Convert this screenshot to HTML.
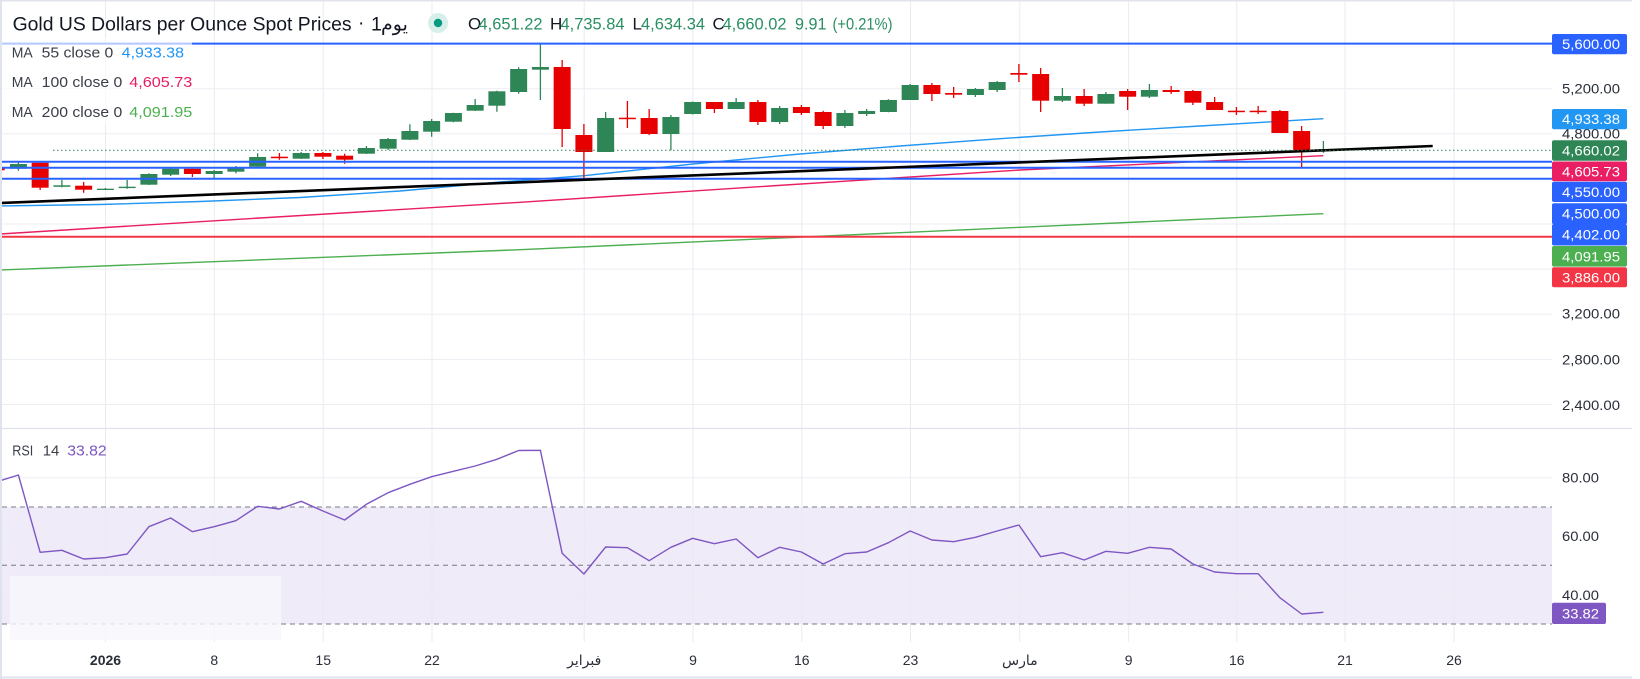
<!DOCTYPE html>
<html><head><meta charset="utf-8"><style>
html,body{margin:0;padding:0;background:#fff;width:1640px;height:679px;overflow:hidden}
svg{display:block}
text{font-family:"Liberation Sans","DejaVu Sans",sans-serif}
</style></head><body>
<svg width="1640" height="679" viewBox="0 0 1640 679" xmlns="http://www.w3.org/2000/svg">
<defs>
<clipPath id="pc"><rect x="2" y="1" width="1550" height="427"/></clipPath>
<clipPath id="rc"><rect x="2" y="429" width="1550" height="213"/></clipPath>
</defs>
<rect x="0" y="0" width="1640" height="679" fill="#fff"/>
<!-- RSI band -->
<rect x="2" y="507" width="1550" height="117" fill="#EFEBF8"/>
<!-- grid -->
<path d="M105.5 1V642M214.3 1V642M323.2 1V642M432 1V642M584.2 1V642M693 1V642M801.8 1V642M910.5 1V642M1019.8 1V642M1128.6 1V642M1236.8 1V642M1345 1V642M1454 1V642" stroke="#E9EBF0" stroke-width="1" fill="none"/>
<path d="M2 88.7H1552M2 133.8H1552M2 178.9H1552M2 224H1552M2 269.1H1552M2 314.3H1552M2 359.4H1552M2 404.5H1552M2 477.7H1552M2 536H1552M2 594.3H1552" stroke="#ECEEF2" stroke-width="1" fill="none"/>
<!-- borders -->
<rect x="0" y="0" width="1632" height="1.5" fill="#E0E3EB"/>
<rect x="0" y="0" width="2" height="679" fill="#DFE3EC"/>
<rect x="0" y="427.8" width="1632" height="1.3" fill="#E0E3EB"/>
<rect x="0" y="676.5" width="1632" height="2" fill="#E0E3EB"/>

<g clip-path="url(#pc)">
<!-- MAs -->
<polyline fill="none" stroke="#4CAF50" stroke-width="1.4" points="0,270 520,249.7 1020,227.3 1323.4,213.7"/>
<polyline fill="none" stroke="#E91E63" stroke-width="1.4" points="0,234 260,218 520,202.3 770,186 1020,170 1323.4,155.7"/>
<polyline fill="none" stroke="#2196F3" stroke-width="1.4" points="0,206 100,204.5 200,201.5 300,197.5 400,191 500,182 584,175.7 693,164 800,154 900,146 1000,138.7 1100,132 1200,126 1323.4,118.7"/>
<!-- candles wicks -->
<path fill="none" stroke="#2E8555" stroke-width="1.3" d="M18.4 162V170.7M61.9 180V187.3M105.4 188V190M127.15 180V188.7M148.9 173.3V185M170.65 167.7V176M214.15 170V178M235.9 166V173.3M257.65 153.3V167M301.15 152V159M366.4 146V154M388.15 138V150M409.9 124.3V140M431.65 119V136.7M453.4 112.7V122.3M475.15 99V111M496.9 90.7V111.7M518.65 67.3V93.7M540.4 44V100M605.65 112V152M670.9 115V150.3M692.65 101.5V114.5M736.15 98V109M779.65 106V124M844.9 110V128M866.65 109V116M888.4 99.3V112.3M910.15 84V100M975.4 88V97M997.15 81V92M1062.4 88V102M1105.9 92V103.7M1149.4 84V98M1323.4 141V152.7"/>
<path fill="none" stroke="#E60000" stroke-width="1.3" d="M40.15 162V190M83.65 182V192.7M192.4 167.3V177M279.4 153V159.7M322.9 152V159M344.65 153.7V163.7M562.15 60V147M583.9 124V178.7M627.4 101V128M649.15 109V135M714.4 102V113M757.9 100V125M801.4 105V115M823.15 110.7V129M931.9 83V101M953.65 87V98M1018.9 64V82M1040.65 68V112M1084.15 89V106M1127.65 89V110M1171.15 86V94M1192.9 90V105M1214.65 97V110M1236.4 107V115M1258.15 106V114M1279.9 110V133M1301.65 126V167.7"/>
<!-- green bodies -->
<g fill="#2E8555">
<rect x="9.9" y="164" width="17" height="4.7"/>
<rect x="53.4" y="185.3" width="17" height="1.5"/>
<rect x="96.9" y="188.7" width="17" height="1.3"/>
<rect x="118.65" y="186.7" width="17" height="1.4"/>
<rect x="140.4" y="174" width="17" height="10.7"/>
<rect x="162.15" y="168.7" width="17" height="6"/>
<rect x="205.65" y="171" width="17" height="3"/>
<rect x="227.4" y="167" width="17" height="4.7"/>
<rect x="249.15" y="157" width="17" height="9.7"/>
<rect x="292.65" y="153" width="17" height="5.7"/>
<rect x="357.9" y="148" width="17" height="5.7"/>
<rect x="379.65" y="139" width="17" height="9.7"/>
<rect x="401.4" y="131" width="17" height="8.7"/>
<rect x="423.15" y="121" width="17" height="10.7"/>
<rect x="444.9" y="113" width="17" height="8.7"/>
<rect x="466.65" y="105" width="17" height="5.7"/>
<rect x="488.4" y="91.3" width="17" height="14.4"/>
<rect x="510.15" y="69" width="17" height="23"/>
<rect x="531.9" y="67" width="17" height="2.7"/>
<rect x="597.15" y="118" width="17" height="34"/>
<rect x="662.4" y="117" width="17" height="17"/>
<rect x="684.15" y="102" width="17" height="12"/>
<rect x="727.65" y="102" width="17" height="7"/>
<rect x="771.15" y="108" width="17" height="14"/>
<rect x="836.4" y="113" width="17" height="13"/>
<rect x="858.15" y="111" width="17" height="3"/>
<rect x="879.9" y="100" width="17" height="12"/>
<rect x="901.65" y="85" width="17" height="15"/>
<rect x="966.9" y="89" width="17" height="6"/>
<rect x="988.65" y="82" width="17" height="8"/>
<rect x="1053.9" y="96" width="17" height="4.7"/>
<rect x="1097.4" y="94" width="17" height="9.7"/>
<rect x="1140.9" y="90" width="17" height="6.7"/>
<rect x="1314.9" y="149.3" width="17" height="1.5"/>
</g>
<g fill="#E60000">
<rect x="2" y="167.7" width="2.7" height="2.6"/>
<rect x="31.65" y="162.7" width="17" height="25"/>
<rect x="75.15" y="185.7" width="17" height="4"/>
<rect x="183.9" y="168.7" width="17" height="5.3"/>
<rect x="270.9" y="156.7" width="17" height="1.5"/>
<rect x="314.4" y="153" width="17" height="3.7"/>
<rect x="336.15" y="155.7" width="17" height="4"/>
<rect x="553.65" y="67" width="17" height="62"/>
<rect x="575.4" y="135" width="17" height="17"/>
<rect x="618.9" y="117.7" width="17" height="1.5"/>
<rect x="640.65" y="118" width="17" height="16"/>
<rect x="705.9" y="102" width="17" height="7"/>
<rect x="749.4" y="102" width="17" height="20"/>
<rect x="792.9" y="107" width="17" height="6"/>
<rect x="814.65" y="112" width="17" height="14"/>
<rect x="923.4" y="85" width="17" height="9"/>
<rect x="945.15" y="93" width="17" height="1.7"/>
<rect x="1010.4" y="73" width="17" height="1.7"/>
<rect x="1032.15" y="74" width="17" height="26.7"/>
<rect x="1075.65" y="96" width="17" height="7.7"/>
<rect x="1119.15" y="91" width="17" height="5.7"/>
<rect x="1162.65" y="90" width="17" height="2"/>
<rect x="1184.4" y="91" width="17" height="11.7"/>
<rect x="1206.15" y="102" width="17" height="8"/>
<rect x="1227.9" y="110.7" width="17" height="1.5"/>
<rect x="1249.65" y="110.7" width="17" height="1.5"/>
<rect x="1271.4" y="111" width="17" height="22"/>
<rect x="1293.15" y="131" width="17" height="19.3"/>
</g>
<!-- drawings -->
<path d="M2 43.6H1552M2 161.7H1552M2 167.7H1552M2 178.8H1552" stroke="#2962FF" stroke-width="2" fill="none"/>
<path d="M2 236.8H1552" stroke="#F23645" stroke-width="2" fill="none"/>
<line x1="0" y1="203" x2="1432.7" y2="146" stroke="#000" stroke-width="2.6"/>
<line x1="53" y1="150.2" x2="1552" y2="150.2" stroke="#2E8555" stroke-width="1" stroke-dasharray="1.5 2.5"/>
</g>

<!-- legend bg -->
<rect x="2" y="38" width="190" height="86" fill="#fff" opacity="0.65"/>

<!-- RSI pane -->
<path d="M2 507H1552M2 565.3H1552M2 624H1552" stroke="#787B86" stroke-width="1" stroke-dasharray="5 4" fill="none"/>
<g clip-path="url(#rc)">
<polyline fill="none" stroke="#7E57C2" stroke-width="1.4" stroke-linejoin="round" points="0,480.8 18.4,475 40.15,552.3 61.9,550.3 83.65,559 105.4,557.7 127.15,554 148.9,526.7 170.65,518 192.4,531.7 214.15,526.7 235.9,520.7 257.65,506.3 279.4,509 301.15,501.3 322.9,511 344.65,520 366.4,504.3 388.15,492.7 409.9,484.3 431.65,476.7 453.4,471.3 475.15,466 496.9,459.3 518.65,450.5 540.4,450.3 562.15,553.3 583.9,574 605.65,547 627.4,547.7 649.15,560.7 670.9,547.3 692.65,538.3 714.4,543.7 736.15,539 757.9,557.7 779.65,547.3 801.4,552 823.15,564 844.9,553.7 866.65,552 888.4,542.7 910.15,531 931.9,540 953.65,541.7 975.4,537.3 997.15,531 1018.9,525 1040.65,556.7 1062.4,552.7 1084.15,560 1105.9,551.3 1127.65,553.3 1149.4,547.3 1171.15,549 1192.9,564 1214.65,572 1236.4,573.7 1258.15,573.7 1279.9,597.7 1301.65,614 1323.4,612.3"/>
</g>
<rect x="10" y="576" width="271" height="64" fill="#F8F7FC" opacity="0.8"/>

<!-- Title -->
<text x="12.6" y="30.5" font-size="19.5" fill="#131722" textLength="339" lengthAdjust="spacingAndGlyphs">Gold US Dollars per Ounce Spot Prices</text>
<text x="358" y="29" font-size="19" fill="#131722">·</text>
<text x="371" y="30.5" font-size="19.5" fill="#131722">1</text>
<text x="381" y="30.5" font-size="19" fill="#131722">يوم</text>
<circle cx="438" cy="23" r="10" fill="#D6EFEA"/>
<circle cx="438" cy="23" r="4.2" fill="#089981"/>
<g font-size="17">
<text x="468" y="29.3" fill="#131722">O</text>
<text x="478.5" y="29.3" fill="#2A8F62" textLength="64" lengthAdjust="spacingAndGlyphs">4,651.22</text>
<text x="550" y="29.3" fill="#131722">H</text>
<text x="560.5" y="29.3" fill="#2A8F62" textLength="64" lengthAdjust="spacingAndGlyphs">4,735.84</text>
<text x="632.5" y="29.3" fill="#131722">L</text>
<text x="641" y="29.3" fill="#2A8F62" textLength="64" lengthAdjust="spacingAndGlyphs">4,634.34</text>
<text x="712.5" y="29.3" fill="#131722">C</text>
<text x="722.5" y="29.3" fill="#2A8F62" textLength="64" lengthAdjust="spacingAndGlyphs">4,660.02</text>
<text x="795" y="29.3" fill="#2A8F62" textLength="31.5" lengthAdjust="spacingAndGlyphs">9.91</text>
<text x="832.5" y="29.3" fill="#2A8F62" textLength="60" lengthAdjust="spacingAndGlyphs">(+0.21%)</text>
</g>

<!-- MA legend -->
<g font-size="15" fill="#3B3E48">
<text x="11.7" y="57.3" textLength="21" lengthAdjust="spacingAndGlyphs">MA</text>
<text x="41.7" y="57.3" textLength="71.6" lengthAdjust="spacingAndGlyphs">55 close 0</text>
<text x="121.7" y="57.3" fill="#2196F3" textLength="62.3" lengthAdjust="spacingAndGlyphs">4,933.38</text>
<text x="11.7" y="87" textLength="21" lengthAdjust="spacingAndGlyphs">MA</text>
<text x="41.7" y="87" textLength="80.6" lengthAdjust="spacingAndGlyphs">100 close 0</text>
<text x="129.3" y="87" fill="#E91E63" textLength="63" lengthAdjust="spacingAndGlyphs">4,605.73</text>
<text x="11.7" y="117" textLength="21" lengthAdjust="spacingAndGlyphs">MA</text>
<text x="41.7" y="117" textLength="80.6" lengthAdjust="spacingAndGlyphs">200 close 0</text>
<text x="129.3" y="117" fill="#4CAF50" textLength="63" lengthAdjust="spacingAndGlyphs">4,091.95</text>
<text x="12.3" y="455.3" textLength="21" lengthAdjust="spacingAndGlyphs">RSI</text>
<text x="42.7" y="455.3" textLength="16.6" lengthAdjust="spacingAndGlyphs">14</text>
<text x="67.3" y="455.3" fill="#7E57C2" textLength="39.4" lengthAdjust="spacingAndGlyphs">33.82</text>
</g>

<!-- price axis -->
<g font-size="14" fill="#2A2E39">
<text x="1562" y="93.7" textLength="58" lengthAdjust="spacingAndGlyphs">5,200.00</text>
<text x="1562" y="138.6" textLength="58" lengthAdjust="spacingAndGlyphs">4,800.00</text>
<text x="1562" y="318.6" textLength="58" lengthAdjust="spacingAndGlyphs">3,200.00</text>
<text x="1562" y="364.4" textLength="58" lengthAdjust="spacingAndGlyphs">2,800.00</text>
<text x="1562" y="409.8" textLength="58" lengthAdjust="spacingAndGlyphs">2,400.00</text>
<text x="1562" y="482.7" textLength="37" lengthAdjust="spacingAndGlyphs">80.00</text>
<text x="1562" y="541" textLength="37" lengthAdjust="spacingAndGlyphs">60.00</text>
<text x="1562" y="599.8" textLength="37" lengthAdjust="spacingAndGlyphs">40.00</text>
</g>
<!-- label boxes -->
<g>
<rect x="1552" y="34" width="75" height="20.3" rx="2" fill="#2962FF"/>
<rect x="1552" y="109" width="75" height="20.3" rx="2" fill="#2196F3"/>
<rect x="1552" y="140.3" width="75" height="20.4" rx="2" fill="#2E8555"/>
<rect x="1552" y="161.5" width="75" height="19.7" rx="2" fill="#E91E63"/>
<rect x="1552" y="181.7" width="75" height="20.3" rx="2" fill="#2962FF"/>
<rect x="1552" y="203.2" width="75" height="21" rx="2" fill="#2962FF"/>
<rect x="1552" y="224" width="75" height="21.5" rx="2" fill="#2962FF"/>
<rect x="1552" y="246" width="75" height="20.6" rx="2" fill="#4CAF50"/>
<rect x="1552" y="267.3" width="75" height="20" rx="2" fill="#F23645"/>
<rect x="1552" y="602.7" width="54" height="21.3" rx="2" fill="#7E57C2"/>
</g>
<g font-size="14" fill="#fff">
<text x="1562" y="49" textLength="58" lengthAdjust="spacingAndGlyphs">5,600.00</text>
<text x="1562" y="124" textLength="58" lengthAdjust="spacingAndGlyphs">4,933.38</text>
<text x="1562" y="155.4" textLength="58" lengthAdjust="spacingAndGlyphs">4,660.02</text>
<text x="1562" y="176.3" textLength="58" lengthAdjust="spacingAndGlyphs">4,605.73</text>
<text x="1562" y="196.8" textLength="58" lengthAdjust="spacingAndGlyphs">4,550.00</text>
<text x="1562" y="218.6" textLength="58" lengthAdjust="spacingAndGlyphs">4,500.00</text>
<text x="1562" y="239.5" textLength="58" lengthAdjust="spacingAndGlyphs">4,402.00</text>
<text x="1562" y="261.3" textLength="58" lengthAdjust="spacingAndGlyphs">4,091.95</text>
<text x="1562" y="282.3" textLength="58" lengthAdjust="spacingAndGlyphs">3,886.00</text>
<text x="1562" y="618.3" textLength="37" lengthAdjust="spacingAndGlyphs">33.82</text>
</g>

<!-- time axis -->
<g font-size="14" fill="#2A2E39" text-anchor="middle">
<text x="105.5" y="665" font-weight="bold">2026</text>
<text x="214.3" y="665">8</text>
<text x="323.2" y="665">15</text>
<text x="432" y="665">22</text>
<text x="584.2" y="665">فبراير</text>
<text x="693" y="665">9</text>
<text x="801.8" y="665">16</text>
<text x="910.5" y="665">23</text>
<text x="1019.8" y="665">مارس</text>
<text x="1128.6" y="665">9</text>
<text x="1236.8" y="665">16</text>
<text x="1345" y="665">21</text>
<text x="1454" y="665">26</text>
</g>
</svg>
</body></html>
